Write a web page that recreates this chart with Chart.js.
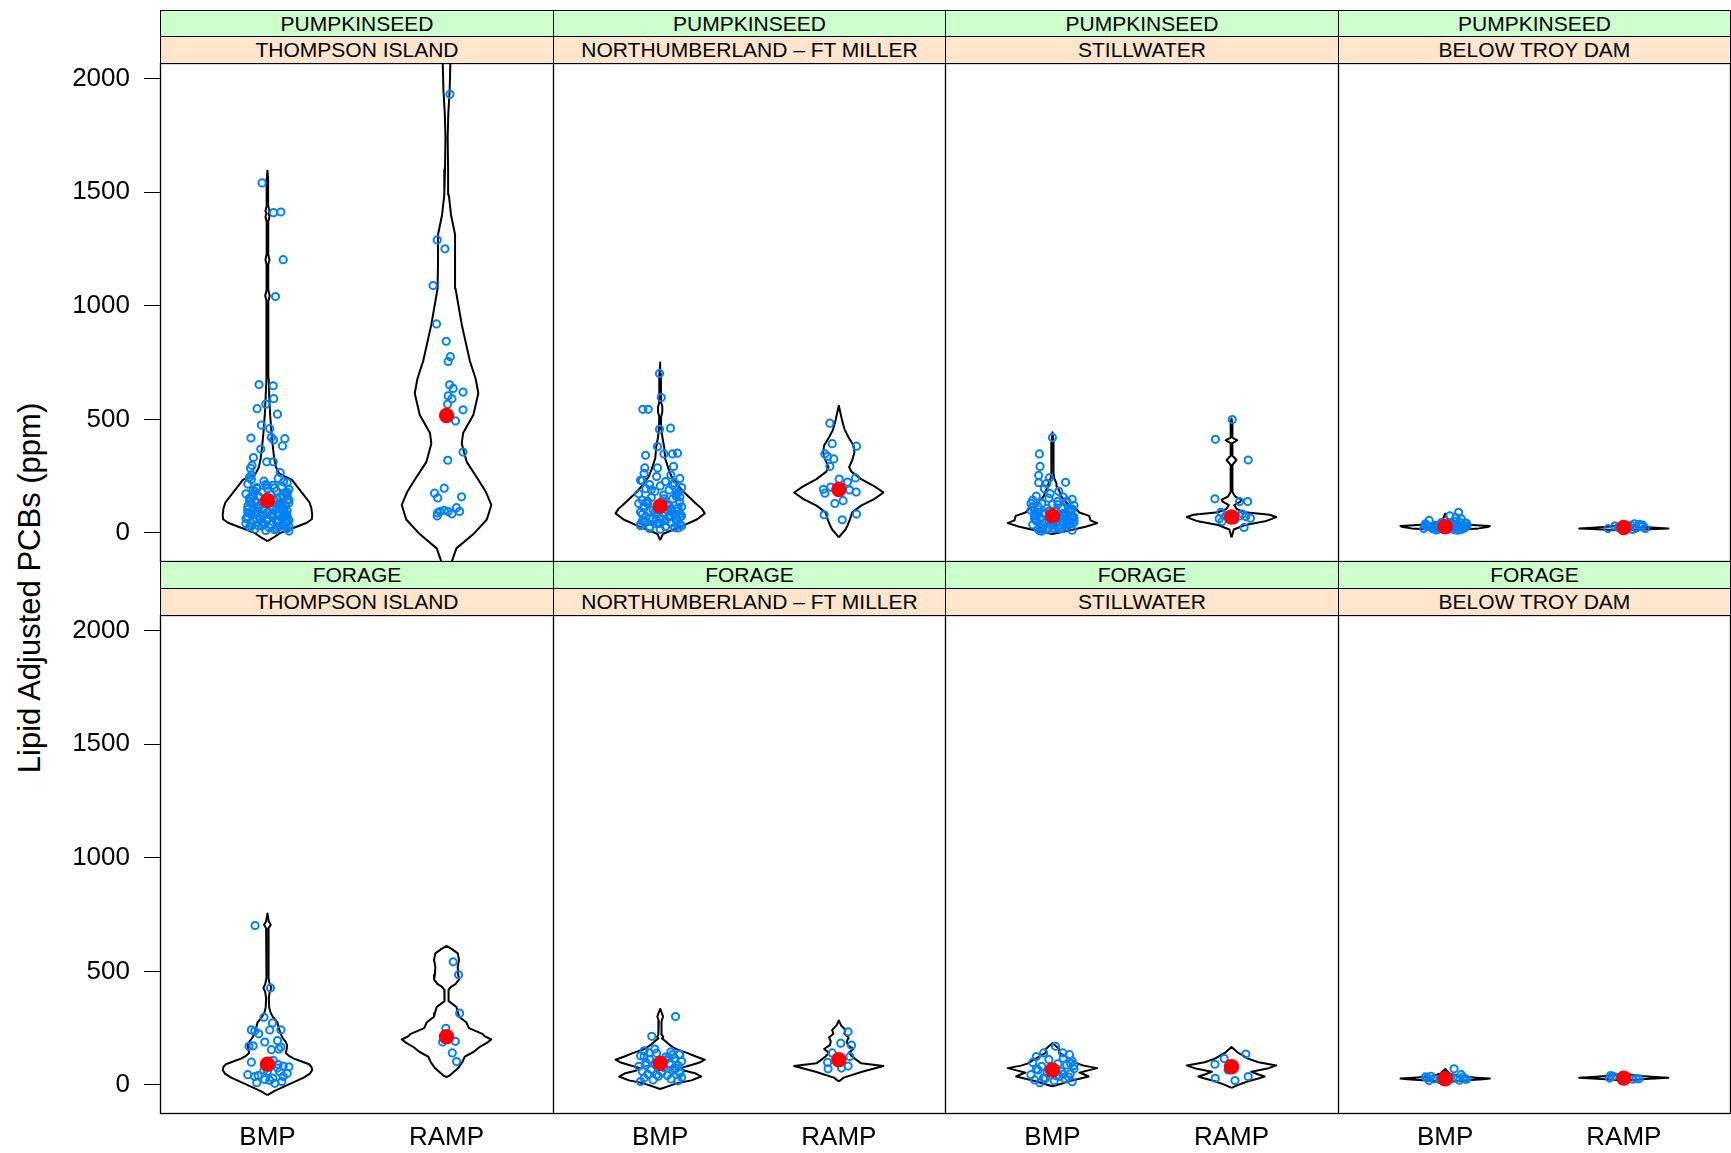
<!DOCTYPE html>
<html>
<head>
<meta charset="utf-8">
<script src="https://cdn.jsdelivr.net/npm/chart.js@4.4.1/dist/chart.umd.min.js"></script>
<style>
  html, body { margin: 0; padding: 0; background: #fff; }
  body { width: 1731px; height: 1153px; position: relative; overflow: hidden;
         font-family: "Liberation Sans", Arial, Helvetica, sans-serif; }
  .strip { position: absolute; box-sizing: border-box; border: 1px solid #000;
           display: flex; align-items: center; justify-content: center;
           font-size: 21px; color: #000; white-space: nowrap; }
  .green { background: #ccffcc; }
  .peach { background: #ffe5cc; }
  canvas { position: absolute; }
  #ylab { position: absolute; left: 30px; top: 588px; font-size: 31px; color: #000;
          white-space: nowrap; transform: translate(-50%, -50%) rotate(-90deg); }
</style>
</head>
<body>
<div id="ylab"></div>
<script>
// ---- labels -------------------------------------------------------------
const SPECIES = ['PUMPKINSEED', 'FORAGE'];
const REACHES = ['THOMPSON ISLAND', 'NORTHUMBERLAND \u2013 FT MILLER', 'STILLWATER', 'BELOW TROY DAM'];
const PROGRAMS = ['BMP', 'RAMP'];
const Y_TICKS = [0, 500, 1000, 1500, 2000];
const Y_LABEL = 'Lipid Adjusted PCBs (ppm)';

// ---- sample values, lipid adjusted PCBs (ppm) ----------------------------
const pumpThompsonBMP = [1541,1410,1413,1203,1041,653,648,591,567,547,523,475,459,421,418,409,415,383,369,332,285,313,313,297,266,
  235,240,228,222,215,210,205,200,196,192,188,184,180,176,172,168,165,161,158,154,150,147,143,140,136,133,130,126,123,120,
  117,114,110,107,104,101,98,95,92,89,86,83,80,77,74,71,68,65,62,59,56,53,50,47,44,41,38,35,32,29,26,23,20,17,14,11,8,
  30,45,60,75,90,105,120,135,150,165,180,195,210,225,245,255,25,40,55,70,85,100,115,130,145,160,
  18,33,48,63,78,93,108,123,138,153,168,183,198,213,28,43,58,73,88,103,118,133];
const pumpThompsonRAMP = [1931,1290,1251,1089,920,844,776,755,652,636,620,604,591,567,542,493,356,320,197,175,154,159,88,94,99,94,84,111,94,75];
const pumpNorthBMP = [702,596,544,544,456,461,380,342,348,348,351,293,286,286,
  262,255,248,240,232,226,220,213,207,200,195,189,183,178,172,167,161,156,150,145,140,135,130,125,120,115,110,106,101,97,
  92,88,84,80,76,72,68,64,60,56,52,48,44,40,36,32,28,24,20,16,30,50,70,90,110,130,150,170,190,210,230,60,85,140,100,45,75,120,95,65,
  22,38,54,78,102,118,134,158,26,42,66,82];
const pumpNorthRAMP = [483,393,382,348,337,326,293,237,224,242,192,202,175,189,180,130,142,80,58,83];
const pumpStillBMP = [420,348,293,253,242,221,218,223,194,183,173,
  162,158,153,148,144,139,135,130,126,121,117,112,108,104,100,96,92,88,84,80,76,72,68,64,60,56,52,48,44,40,36,32,28,24,20,16,12,8,
  45,55,65,75,85,95,105,115,125,140,25,35,70,90,110,15,50,130,60,40,30,80,100,20,65,10,
  18,34,46,58,74,86,98,114,22,38,54,66];
const pumpStillRAMP = [499,412,321,150,138,138,91,75,62,83,72,65,51,24,59,75];
const pumpTroyBMP = [91,75,68,62,55,50,46,43,40,38,35,33,31,29,27,25,23,21,19,17,15,13,12,30,26,22,18,34,37,42,28,20,16,24,32,45,48,36,14,26,30,22];
const pumpTroyRAMP = [40,38,35,30,26,22,19,17,15,24,28,20,33];
const forThompsonBMP = [702,427,298,273,242,225,242,242,237,189,195,170,172,155,158,167,108,83,74,37,41,24,20,7,37,58,100,90,65,50,45,30,15,10,60,80];
const forThompsonRAMP = [542,485,316,249,189,192,141,103,205];
const forNorthBMP = [301,214,158,141,125,133,133,
  150,146,140,135,128,122,118,113,108,104,99,95,90,86,82,77,73,68,64,60,55,51,47,42,38,34,30,26,22,18,15,110,70,45,120,88,57];
const forNorthRAMP = [234,184,175,141,125,99,71,74,83];
const forStillBMP = [141,170,141,133,125,118,112,105,99,93,88,82,76,71,66,60,55,50,45,40,35,30,26,22,18,14,10,38,62,85,70,48,28,95];
const forStillRAMP = [136,116,91,66,37,19,29];
const forTroyBMP = [71,45,38,34,31,29,27,25,23,21,19,33,26,36,22];
const forTroyRAMP = [41,38,27,30,28,33,25];

// group centres (red dots), BMP then RAMP for each reach
const pumpCentres = [142, 517, 118, 191, 75, 70, 27, 24];
const forCentres = [91, 212, 95, 111, 66, 80, 27, 30];

// ---- horizontal jitter of the plotted samples (category units) ----------
// leading entries belong to the isolated samples; the dense clusters
// continue with CLUSTER_JITTER
const pumpThompsonBMPJitter = [-0.03,0.034,0.075,0.088,0.045,-0.047,0.032,0.035,-0.009,-0.058,0.056,-0.034,0.013,0.021,-0.092,0.034,0.097,0.084,-0.037,-0.078,-0.095,-0.004,0.032,-0.086,0.071];
const pumpThompsonRAMPJitter = [0.019,-0.052,-0.009,-0.075,-0.056,-0.002,0.021,0.009,0.017,0.037,0.092,0.009,0.03,0.006,0.092,0.05,0.092,0.007,-0.013,-0.067,-0.049,0.084,-0.05,-0.037,-0.013,0.009,0.03,0.056,0.073,-0.052];
const pumpNorthBMPJitter = [-0.004,0.006,-0.097,-0.067,-0.004,0.058,-0.015,-0.082,0.021,0.069,0.097,0.075,-0.086,-0.015];
const pumpNorthRAMPJitter = [-0.05,-0.037,0.099,-0.078,-0.063,-0.028,-0.05,0.002,0.049,0.093,-0.086,-0.045,-0.078,0.06,0.097,-0.022,0.024,-0.082,0.019,0.099];
const pumpStillBMPJitter = [0,-0.073,-0.069,-0.077,-0.017,-0.077,-0.032,0.073,-0.045,0.035,-0.013];
const pumpStillRAMPJitter = [0.004,-0.09,0.093,-0.093,0.045,0.09,-0.06,-0.032,-0.069,0.06,0.079,0.106,-0.052,0.07,0.019,0.043];
const pumpTroyBMPJitter = [0.075,0.026,0.06,0.09];
const pumpTroyRAMPJitter = [0.06,0.085,0.105,-0.05,0.03,0.07,-0.088,0.0,0.05,-0.03,0.1,0.12,0.04];
const forThompsonBMPJitter = [-0.069,0.017,-0.019,0.028,-0.09,-0.049,0.013,0.075,-0.071,-0.015,0.056,-0.103,-0.08,0.022,0.063,0.075,0.032,0.088,0.056,-0.071,-0.052,-0.015,0.013,0.041,0.088,0.069];
const forThompsonRAMPJitter = [0.037,0.067,0.073,-0.004,-0.022,0.049,0.032,0.056,-0.013];
const forNorthBMPJitter = [0.086,-0.047,-0.03,-0.062,-0.09,0.069,0.106];
const forNorthRAMPJitter = [0.052,0.011,0.071,-0.037,0.062,-0.063,-0.06,0.015,0.052];
const forStillBMPJitter = [-0.049,0.017,0.058,0.095];
const forStillRAMPJitter = [0.08,-0.041,-0.093,-0.019,0.093,0.019,-0.091];
const forTroyBMPJitter = [0.05,0.09,-0.08,0.1,-0.1,0.06,-0.06,0.12,-0.03,0.08,-0.09,0.03,0.11,-0.11,0.0];
const forTroyRAMPJitter = [-0.074,-0.06,0.085,-0.08,0.07,0.0,0.05];
const CLUSTER_JITTER = [-0.09,0.06,-0.02,0.11,-0.11,0.03,0.08,-0.06,0.0,0.12,-0.08,0.05,-0.03,0.1,-0.12,0.02,0.09,-0.05,0.07,-0.1,
  0.01,0.11,-0.07,0.04,-0.01,0.12,-0.09,0.06,-0.04,0.1,-0.11,0.03,0.08,-0.02,0.05,-0.08,0.11,-0.06,0.0,0.09,-0.1];

// ---- density outlines: [level (ppm), density relative to its maximum] ----
const pumpThompsonBMPDensity = [[-36,0],[-20,0.14],[-1,0.28],[15,0.48],[27,0.65],[45,0.88],[60,0.99],[80,1],[110,0.98],[134,0.94],
  [170,0.8],[205,0.66],[234,0.55],[248,0.4],[262,0.26],[290,0.19],[330,0.15],[380,0.12],[440,0.09],[520,0.06],[600,0.04],
  [680,0.028],[760,0.02],[900,0.018],[1020,0.02],[1044,0.05],[1068,0.02],[1180,0.018],[1203,0.045],[1226,0.018],[1370,0.018],
  [1392,0.045],[1405,0.025],[1418,0.045],[1440,0.018],[1560,0.015],[1595,0]];
const pumpThompsonRAMPDensity = [[-260,0],[-200,0.06],[-150,0.1],[-124,0.12],[-68,0.22],[-5,0.6],[59,0.9],[123,1],[180,0.88],
  [234,0.71],[313,0.45],[393,0.34],[440,0.37],[520,0.6],[615,0.71],[679,0.65],[758,0.52],[917,0.34],[1076,0.2],[1200,0.19],
  [1314,0.19],[1400,0.1],[1489,0.05],[1600,0.035],[1743,0.025],[1850,0.04],[1950,0.07],[2069,0.085],[2150,0.1],[2250,0.05],[2300,0]];
const pumpNorthBMPDensity = [[-32,0],[-5,0.06],[3,0.15],[27,0.45],[59,0.82],[86,1],[107,0.93],[130,0.8],[154,0.67],[185,0.5],
  [218,0.37],[250,0.25],[281,0.19],[329,0.11],[377,0.09],[420,0.05],[456,0.03],[510,0.02],[530,0.045],[544,0.05],[558,0.045],
  [575,0.02],[700,0.015],[750,0]];
const pumpNorthRAMPDensity = [[-20,0],[-5,0.06],[15,0.15],[35,0.2],[60,0.25],[91,0.3],[120,0.5],[150,0.8],[178,1],[205,0.8],
  [237,0.5],[270,0.28],[290,0.23],[320,0.3],[355,0.35],[385,0.33],[420,0.22],[455,0.13],[490,0.08],[525,0.04],[560,0]];
const pumpStillBMPDensity = [[-5,0],[11,0.37],[27,0.74],[43,1],[55,0.85],[75,0.82],[90,0.6],[107,0.52],[125,0.35],[138,0.3],
  [160,0.2],[186,0.15],[205,0.1],[218,0.09],[240,0.04],[260,0.025],[300,0.02],[330,0.03],[350,0.02],[380,0.03],[400,0.02],[443,0]];
const pumpStillRAMPDensity = [[-20,0],[15,0.05],[35,0.3],[51,0.75],[62,0.9],[70,1],[80,0.85],[91,0.3],[105,0.12],[122,0.06],
  [138,0.2],[147,0.22],[160,0.08],[180,0.02],[300,0.02],[321,0.11],[340,0.02],[395,0.02],[408,0.13],[420,0.02],[480,0.02],[504,0]];
const pumpTroyBMPDensity = [[8,0],[14,0.3],[20,0.75],[26,0.95],[30,1],[34,0.7],[40,0.3],[50,0.1],[65,0.04],[85,0]];
const pumpTroyRAMPDensity = [[10,0],[14,0.35],[18,0.85],[20,1],[23,0.7],[28,0.3],[35,0.08],[45,0]];
const forThompsonBMPDensity = [[-45,0],[-27,0.15],[-1,0.44],[32,0.81],[50,0.95],[66,1],[80,0.98],[91,0.93],[104,0.75],[116,0.59],
  [128,0.48],[141,0.41],[158,0.43],[175,0.44],[192,0.4],[209,0.33],[240,0.27],[276,0.22],[300,0.12],[318,0.07],[340,0.04],
  [380,0.03],[410,0.05],[427,0.09],[444,0.05],[470,0.025],[600,0.02],[690,0.03],[705,0.075],[720,0.03],[755,0]];
const forThompsonRAMPDensity = [[35,0],[41,0.07],[74,0.26],[100,0.35],[125,0.41],[145,0.6],[167,0.74],[185,0.9],[200,1],[215,0.85],
  [225,0.8],[250,0.5],[276,0.44],[300,0.28],[316,0.26],[343,0.22],[369,0.05],[400,0.04],[419,0.05],[432,0.1],[444,0.2],
  [465,0.28],[485,0.26],[520,0.25],[550,0.28],[579,0.25],[598,0.12],[612,0]];
const forNorthBMPDensity = [[-18,0],[7,0.37],[20,0.7],[37,0.92],[50,0.8],[62,0.55],[74,0.45],[88,0.7],[100,0.9],[111,1],[125,0.8],
  [141,0.6],[158,0.35],[175,0.22],[192,0.12],[205,0.04],[212,0.07],[220,0.04],[280,0.03],[301,0.065],[320,0.03],[335,0]];
const forNorthRAMPDensity = [[15,0],[32,0.11],[58,0.52],[83,1],[95,0.5],[108,0.41],[125,0.3],[141,0.22],[158,0.33],[175,0.2],
  [192,0.18],[209,0.22],[225,0.12],[242,0.15],[262,0.05],[284,0]];
const forStillBMPDensity = [[-6,0],[5,0.2],[16,0.37],[37,0.81],[47,0.7],[54,0.6],[64,0.8],[74,1],[85,0.7],[95,0.55],[108,0.44],
  [125,0.3],[141,0.15],[158,0.15],[170,0.08],[184,0]];
const forStillRAMPDensity = [[-13,0],[0,0.15],[16,0.37],[28,0.6],[37,0.74],[46,0.6],[58,0.44],[72,0.8],[86,1],[100,0.6],[116,0.37],
  [130,0.25],[141,0.15],[155,0.07],[167,0]];
const forTroyBMPDensity = [[12,0],[20,0.4],[25,0.85],[28,1],[32,0.7],[38,0.3],[50,0.1],[70,0]];
const forTroyRAMPDensity = [[18,0],[25,0.4],[30,0.9],[32,1],[35,0.7],[40,0.3],[48,0.08],[58,0]];

// ---- panel table: [row][reach] -> [BMP, RAMP] series -----------------------
const PANELS = [
  [
    [[pumpThompsonBMP, pumpThompsonBMPJitter, pumpThompsonBMPDensity], [pumpThompsonRAMP, pumpThompsonRAMPJitter, pumpThompsonRAMPDensity]],
    [[pumpNorthBMP, pumpNorthBMPJitter, pumpNorthBMPDensity], [pumpNorthRAMP, pumpNorthRAMPJitter, pumpNorthRAMPDensity]],
    [[pumpStillBMP, pumpStillBMPJitter, pumpStillBMPDensity], [pumpStillRAMP, pumpStillRAMPJitter, pumpStillRAMPDensity]],
    [[pumpTroyBMP, pumpTroyBMPJitter, pumpTroyBMPDensity], [pumpTroyRAMP, pumpTroyRAMPJitter, pumpTroyRAMPDensity]]
  ],
  [
    [[forThompsonBMP, forThompsonBMPJitter, forThompsonBMPDensity], [forThompsonRAMP, forThompsonRAMPJitter, forThompsonRAMPDensity]],
    [[forNorthBMP, forNorthBMPJitter, forNorthBMPDensity], [forNorthRAMP, forNorthRAMPJitter, forNorthRAMPDensity]],
    [[forStillBMP, forStillBMPJitter, forStillBMPDensity], [forStillRAMP, forStillRAMPJitter, forStillRAMPDensity]],
    [[forTroyBMP, forTroyBMPJitter, forTroyBMPDensity], [forTroyRAMP, forTroyRAMPJitter, forTroyRAMPDensity]]
  ]
];
const CENTRES = [pumpCentres, forCentres];

// ---- layout ---------------------------------------------------------------
const EDGES_X = [160, 553, 945, 1338, 1730];
const STRIP_Y = [[10, 36, 63], [561, 588, 615]];
const PANEL_H = 498;
const AXIS_H = 38;
const X_MIN = 0.4, X_MAX = 2.6;
const Y_MIN = -128, Y_MAX = 2069;
const HALF_WIDTH = 0.25;
const FONT = '"Liberation Sans", Arial, Helvetica, sans-serif';

document.getElementById('ylab').textContent = Y_LABEL;

const panelBorder = {
  id: 'panelBorder',
  afterDraw(chart) {
    const { ctx, chartArea: a } = chart;
    ctx.save();
    ctx.strokeStyle = '#000';
    ctx.lineWidth = 1.3;
    ctx.strokeRect(a.left + 0.5, a.top + 0.5, a.right - a.left - 1, a.bottom - a.top - 1);
    ctx.restore();
  }
};

function outline(density, pos) {
  const right = density.map(([lv, d]) => ({ x: pos + d * HALF_WIDTH, y: lv }));
  const left = density.slice().reverse().map(([lv, d]) => ({ x: pos - d * HALF_WIDTH, y: lv }));
  return right.concat(left);
}

function samples(values, jitter, pos) {
  let k = 0;
  return values.map((v, i) => {
    let j = jitter[i];
    if (j === undefined) { j = CLUSTER_JITTER[k % CLUSTER_JITTER.length]; k++; }
    return { x: pos + j, y: v };
  });
}

function addStrip(text, cls, left, width, top, height) {
  const d = document.createElement('div');
  d.className = 'strip ' + cls;
  d.style.left = left + 'px';
  d.style.width = width + 'px';
  d.style.top = top + 'px';
  d.style.height = height + 'px';
  d.textContent = text;
  document.body.appendChild(d);
}

for (let r = 0; r < 2; r++) {
  for (let c = 0; c < 4; c++) {
    const x0 = EDGES_X[c], x1 = EDGES_X[c + 1];
    const [s0, s1, pTop] = STRIP_Y[r];
    addStrip(SPECIES[r], 'green', x0, x1 - x0 + 1, s0, s1 - s0 + 1);
    addStrip(REACHES[c], 'peach', x0, x1 - x0 + 1, s1, pTop - s1 + 1);

    const showX = r === 1, showY = c === 0;
    const left = showY ? 0 : x0;
    const w = x1 + 1 - left;
    const h = PANEL_H + 1 + (showX ? AXIS_H : 0);
    const cv = document.createElement('canvas');
    cv.width = w; cv.height = h;
    cv.style.left = left + 'px'; cv.style.top = pTop + 'px';
    cv.style.width = w + 'px'; cv.style.height = h + 'px';
    document.body.appendChild(cv);

    const datasets = [];
    const centres = CENTRES[r];
    datasets.push({
      data: [{ x: 1, y: centres[2 * c] }, { x: 2, y: centres[2 * c + 1] }],
      pointRadius: 7.7, pointBackgroundColor: '#ff0000', pointBorderWidth: 0,
      pointBorderColor: '#ff0000', showLine: false, order: 0
    });
    PANELS[r][c].forEach(([values, jitter], g) => {
      datasets.push({
        data: samples(values, jitter, g + 1),
        pointRadius: 3.6, pointBorderWidth: 2, pointBorderColor: '#0080ff',
        pointBackgroundColor: 'rgba(0,0,0,0)', showLine: false, order: 1
      });
    });
    PANELS[r][c].forEach(([, , density], g) => {
      datasets.push({
        data: outline(density, g + 1),
        showLine: true, fill: false, tension: 0, borderColor: '#000', borderWidth: 2,
        borderJoinStyle: 'round', pointRadius: 0, order: 2, clip: 0
      });
    });

    new Chart(cv, {
      type: 'scatter',
      data: { datasets },
      plugins: [panelBorder],
      options: {
        responsive: false, animation: false, devicePixelRatio: 1,
        layout: { padding: 0, autoPadding: false },
        plugins: { legend: { display: false }, tooltip: { enabled: false } },
        scales: {
          x: {
            type: 'linear', min: X_MIN, max: X_MAX, display: showX,
            afterBuildTicks: s => { s.ticks = [{ value: 1 }, { value: 2 }]; },
            afterFit: s => {
              s.height = showX ? AXIS_H : 0;
              s.paddingLeft = 0; s.paddingRight = 0; s.paddingTop = 0; s.paddingBottom = 0;
            },
            grid: { display: false, drawTicks: false },
            border: { display: false },
            ticks: { color: '#000', font: { family: FONT, size: 26 }, padding: 8,
                     autoSkip: false, maxRotation: 0, callback: v => PROGRAMS[v - 1] }
          },
          y: {
            type: 'linear', min: Y_MIN, max: Y_MAX, display: showY,
            afterBuildTicks: s => { s.ticks = Y_TICKS.map(v => ({ value: v })); },
            afterFit: s => {
              s.width = showY ? EDGES_X[0] : 0;
              s.paddingLeft = 0; s.paddingRight = 0; s.paddingTop = 0; s.paddingBottom = 0;
            },
            grid: { drawOnChartArea: false, drawTicks: true, tickLength: 16,
                    color: '#000', tickColor: '#000', lineWidth: 1 },
            border: { display: false },
            ticks: { color: '#000', font: { family: FONT, size: 26 }, padding: 14,
                     callback: v => String(v) }
          }
        }
      }
    });
  }
}
</script>
</body>
</html>
